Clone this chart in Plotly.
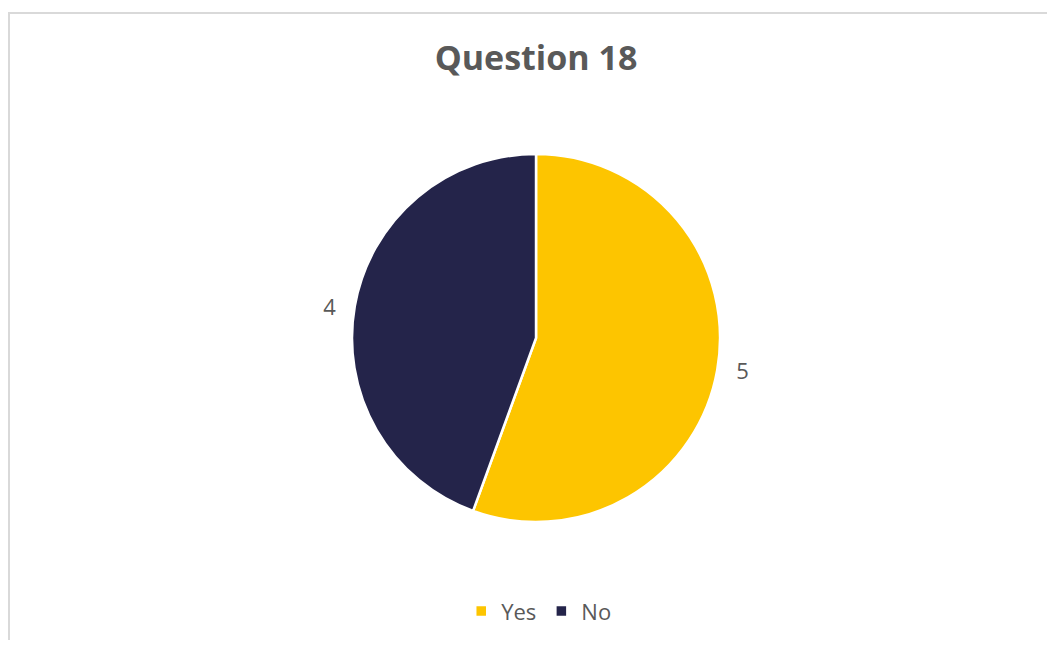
import plotly.graph_objects as go

answers = ['Yes', 'No']
counts = [5, 4]
slice_colors = ['#FDC500', '#24244A']

# page body has an 8px margin; keep the figure small enough to avoid scrollbars
W, H = 1039, 632

fig = go.Figure()
fig.add_trace(go.Pie(
    labels=answers,
    values=counts,
    sort=False,
    direction='clockwise',
    rotation=0,
    marker=dict(colors=slice_colors, line=dict(color='white', width=2.5)),
    texttemplate=['\u00a0\u00a0%{value}', '%{value}\u00a0\u00a0'],
    textposition='outside',
    textfont=dict(size=22, color='#595959'),
    domain=dict(x=[0.0164, 1.0], y=[0.1867, 0.769]),
    automargin=False,
    hoverinfo='label+value',
))

fig.update_layout(
    width=W,
    height=H,
    autosize=False,
    margin=dict(l=0, r=0, t=0, b=0, pad=0, autoexpand=False),
    paper_bgcolor='white',
    font=dict(family='Open Sans, Lato, sans-serif', color='#595959'),
    title=dict(
        text='<b>Question 18</b>',
        x=0.5082, xanchor='center',
        y=0.9209, yanchor='middle',
        font=dict(size=34, color='#595959'),
    ),
    legend=dict(
        orientation='h',
        x=0.5108, xanchor='center',
        y=0.0456, yanchor='middle',
        font=dict(size=22, color='#595959'),
    ),
    shapes=[
        dict(type='line', xref='paper', yref='paper',
             x0=1 / W, x1=1 / W, y0=-0.1, y1=1 - 5 / H,
             line=dict(color='#D9D9D9', width=2)),
        dict(type='line', xref='paper', yref='paper',
             x0=0, x1=1.1, y0=1 - 5 / H, y1=1 - 5 / H,
             line=dict(color='#D9D9D9', width=2)),
    ],
)

fig.write_html("out.html")
